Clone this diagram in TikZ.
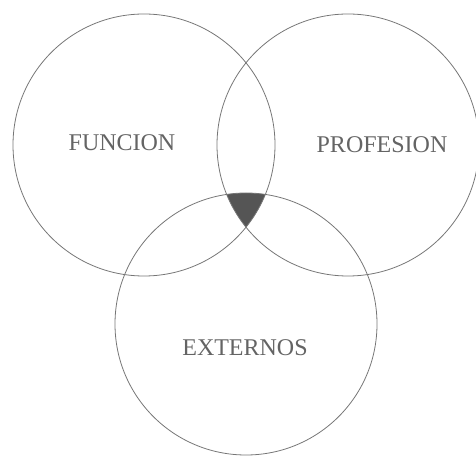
\documentclass[tikz,border=0pt]{standalone}
\usepackage{fontspec}
\setmainfont{Liberation Serif}
\usepackage{tikz}
\usepackage{tkz-euclide}
\definecolor{ringgray}{RGB}{118,118,118}
\definecolor{textgray}{RGB}{100,100,100}
\definecolor{coregray}{RGB}{85,85,85}
\begin{document}
\begin{tikzpicture}[x=1pt,y=1pt]
      \useasboundingbox (0,0) rectangle (476,455);
      % 1. 三個圓的圓心與圓上一點
      \tkzDefPoint(144,310){O_1}
      \tkzDefPoint(348,310){O_2}
      \tkzDefPoint(246,131){O_3}
      \tkzDefPoint(144,441){A}
      \tkzDefPoint(348,441){B}
      \tkzDefPoint(246,262){C}

      % 2. 三圓共同部分塗深灰
      \begin{scope}
        \tkzClipCircle(O_1,A)
        \tkzClipCircle(O_2,B)
        \tkzFillCircle[fill=coregray](O_3,C)
      \end{scope}

      % 3. 畫三個圓
      \tkzDrawCircles[ringgray, line width=0.8pt](O_1,A O_2,B O_3,C)

      % 4. 標籤
      \node[textgray, font=\fontsize{24}{28}\selectfont] (funcion) at (122,312) {FUNCION};
      \node[textgray, font=\fontsize{24}{28}\selectfont] (profesion) at (382,310) {PROFESION};
      \node[textgray, font=\fontsize{24}{28}\selectfont] (externos) at (245,107) {EXTERNOS};
    \end{tikzpicture}
\end{document}
